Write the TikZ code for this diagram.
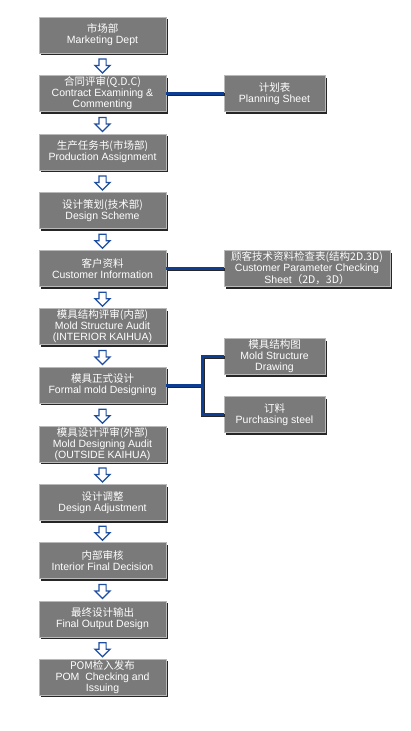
\documentclass[tikz,border=0pt]{standalone}
\usepackage{fontspec}
\setmainfont{Liberation Sans}
\newfontfamily\cjk{Noto Sans CJK SC}
\usetikzlibrary{calc,shapes.arrows,shadows}
\definecolor{boxgray}{RGB}{122,122,122}
\definecolor{linkblue}{RGB}{14,62,146}
\definecolor{arrowblue}{RGB}{30,78,160}
\tikzset {
  every node/.style={font=\fontsize{10.5}{11}\selectfont},
  box/.style={draw=gray!55, fill=boxgray, text=white, align=center,
    minimum width=127pt, minimum height=36pt, inner sep=1pt,
    general shadow={fill=black!85, shadow xshift=2pt, shadow yshift=-2pt}},
  downarrow/.style={single arrow, draw=arrowblue, fill=white, line width=1.2pt,
    shape border rotate=270, minimum height=14pt, minimum width=15pt,
    inner sep=3pt, single arrow head extend=4pt},
  link/.style={linkblue, line width=3pt,
    preaction={draw=black!85, line width=3.4pt, transform canvas={shift={(0.8pt,-0.8pt)}}}},
}

\begin{document}
\begin{tikzpicture}[x=1pt,y=-1pt]
      \useasboundingbox (0,0) rectangle (410,731);
      % main column
      \node[box] (m1) at (102.5,35) {{\cjk 市场部}\\Marketing Dept};
      \node[box] (m2) at (102.5,93.5) {{\cjk 合同评审(Q.D.C)}\\Contract Examining \&\\Commenting};
      \node[box] (m3) at (102.5,152) {{\cjk 生产任务书(市场部)}\\Production Assignment};
      \node[box] (m4) at (102.5,210.5) {{\cjk 设计策划(技术部)}\\Design Scheme};
      \node[box] (m5) at (102.5,268.5) {{\cjk 客户资料}\\Customer Information};
      \node[box] (m6) at (102.5,326.5) {{\cjk 模具结构评审(内部)}\\Mold Structure Audit\\(INTERIOR KAIHUA)};
      \node[box] (m7) at (102.5,385) {{\cjk 模具正式设计}\\Formal mold Designing};
      \node[box] (m8) at (102.5,444) {{\cjk 模具设计评审(外部)}\\Mold Designing Audit\\(OUTSIDE KAIHUA)};
      \node[box] (m9) at (102.5,502.5) {{\cjk 设计调整}\\Design Adjustment};
      \node[box] (m10) at (102.5,560.5) {{\cjk 内部审核}\\Interior Final Decision};
      \node[box] (m11) at (102.5,619) {{\cjk 最终设计输出}\\Final Output Design};
      \node[box] (m12) at (102.5,677) {{\cjk POM检入发布}\\POM\ \ Checking and\\Issuing};
      % side boxes
      \node[box,minimum width=101pt] (plan) at (274.5,93.5) {{\cjk 计划表}\\Planning Sheet};
      \node[box,minimum width=166pt] (param) at (307,268.5)
        {{\cjk 顾客技术资料检查表(结构2D.3D)}\\Customer Parameter Checking\\Sheet{\cjk（2D，3D）}};
      \node[box,minimum width=101pt] (drw) at (274.5,356.5) {{\cjk 模具结构图}\\Mold Structure\\Drawing};
      \node[box,minimum width=101pt] (steel) at (274.5,414.5) {{\cjk 订料}\\Purchasing steel};
      % flow arrows
      \foreach \a/\b in {1/2,2/3,3/4,4/5,5/6,6/7,7/8,8/9,9/10,10/11,11/12}
        \node[downarrow] (d\a) at ($(m\a.south)!0.5!(m\b.north)$) {};
      % connectors
      \draw[link] (m2.east) -- (plan.west);
      \draw[link] (m5.east) -- (param.west);
      \coordinate (fork) at (202,385);
      \draw[link] (m7.east) -- (fork);
      \draw[link] (drw.west) -| (fork) |- (steel.west);
    \end{tikzpicture}
\end{document}
